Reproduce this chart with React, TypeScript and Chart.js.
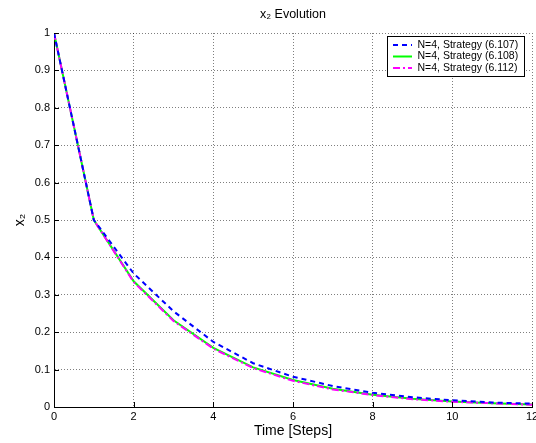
import React, { useEffect, useRef } from "react";
import { Chart, registerables } from "chart.js";

Chart.register(...registerables);

const steps = [0, 1, 2, 3, 4, 5, 6, 7, 8, 9, 10, 11, 12];
const strategy6107 = [1, 0.5, 0.357, 0.256, 0.174, 0.117, 0.081, 0.056, 0.038, 0.026, 0.018, 0.012, 0.009];
const strategy6108 = [1, 0.5, 0.336, 0.232, 0.158, 0.106, 0.072, 0.049, 0.033, 0.022, 0.015, 0.01, 0.007];
const strategy6112 = [1, 0.5, 0.334, 0.23, 0.156, 0.104, 0.07, 0.047, 0.032, 0.021, 0.014, 0.01, 0.006];
const seriesLabels = ["N=4, Strategy (6.107)", "N=4, Strategy (6.108)", "N=4, Strategy (6.112)"];
const seriesColors = ["#0000ff", "#00ff00", "#ff00ff"];
const seriesDashes = [[5, 4], [], [7, 3, 2, 3]];
const seriesOrder = [0, 2, 1];
const chartTitle = "x\u2082 Evolution";
const xTitle = "Time [Steps]";
const yTitle = "x\u2082";

const FONT = "'Liberation Sans', Arial, Helvetica, sans-serif";

const overlayPlugin = {
  id: "overlay",
  afterDraw(chart: any) {
    const { ctx, chartArea, scales } = chart;
    const xs = scales.x;
    const ys = scales.y;
    ctx.save();
    ctx.strokeStyle = "#000";
    ctx.lineWidth = 1;
    ctx.setLineDash([]);
    xs.ticks.forEach((t: any) => {
      const px = Math.round(xs.getPixelForValue(t.value)) + 0.5;
      ctx.beginPath();
      ctx.moveTo(px, chartArea.bottom);
      ctx.lineTo(px, chartArea.bottom - 5);
      ctx.stroke();
    });
    ys.ticks.forEach((t: any) => {
      const py = Math.round(ys.getPixelForValue(t.value)) + 0.5;
      ctx.beginPath();
      ctx.moveTo(chartArea.left, py);
      ctx.lineTo(chartArea.left + 5, py);
      ctx.stroke();
    });
    ctx.fillStyle = "#000";
    ctx.font = `12.5px ${FONT}`;
    ctx.textAlign = "center";
    ctx.textBaseline = "middle";
    ctx.fillText(chartTitle, (chartArea.left + chartArea.right) / 2, 15);
    const bx = 387.5, by = 36.5, bw = 137, bh = 40;
    ctx.fillStyle = "#fff";
    ctx.fillRect(bx, by, bw, bh);
    ctx.strokeStyle = "#000";
    ctx.lineWidth = 1;
    ctx.strokeRect(bx, by, bw, bh);
    const rows = [45, 56.5, 68];
    seriesLabels.forEach((lab, i) => {
      ctx.strokeStyle = seriesColors[i];
      ctx.lineWidth = 2;
      ctx.setLineDash(seriesDashes[i]);
      ctx.beginPath();
      ctx.moveTo(393, rows[i]);
      ctx.lineTo(412, rows[i]);
      ctx.stroke();
      ctx.setLineDash([]);
      ctx.fillStyle = "#000";
      ctx.font = `10.5px ${FONT}`;
      ctx.textAlign = "left";
      ctx.textBaseline = "middle";
      ctx.fillText(lab, 417.5, rows[i]);
    });
    ctx.restore();
  },
};

export default function App() {
  const ref = useRef<HTMLCanvasElement | null>(null);
  useEffect(() => {
    if (!ref.current) return;
    const datasets = [strategy6107, strategy6108, strategy6112].map((vals, i) => ({
      label: seriesLabels[i],
      data: steps.map((s, j) => ({ x: s, y: vals[j] })),
      borderColor: seriesColors[i],
      backgroundColor: seriesColors[i],
      borderWidth: 2,
      borderDash: seriesDashes[i],
      order: seriesOrder[i],
      pointRadius: 0,
      tension: 0,
      fill: false,
    }));
    const chart = new Chart(ref.current, {
      type: "line",
      data: { datasets },
      options: {
        animation: false,
        responsive: false,
        layout: { padding: { top: 33, right: 4, left: 0, bottom: 0 } },
        plugins: { legend: { display: false }, title: { display: false }, tooltip: { enabled: false } },
        scales: {
          x: {
            type: "linear",
            min: 0,
            max: 12,
            afterFit: (s: any) => { s.height = 36; s.paddingLeft = 0; s.paddingRight = 0; },
            ticks: { stepSize: 2, color: "#000", padding: 3, font: { family: FONT, size: 11 }, maxRotation: 0 },
            grid: { color: "rgba(0,0,0,0.5)", lineWidth: 1, drawTicks: false },
            border: { display: true, color: "#000", width: 1, dash: [1, 2] },
            title: { display: true, text: xTitle, color: "#000", font: { family: FONT, size: 14 }, padding: { top: 0, bottom: 3 } },
          },
          y: {
            type: "linear",
            min: 0,
            max: 1,
            afterFit: (s: any) => { s.width = 54; s.paddingTop = 0; s.paddingBottom = 0; },
            ticks: {
              stepSize: 0.1,
              color: "#000",
              padding: 4,
              font: { family: FONT, size: 11 },
              callback: (v: any) => String(Number(Number(v).toFixed(1))),
            },
            grid: { color: "rgba(0,0,0,0.5)", lineWidth: 1, drawTicks: false },
            border: { display: true, color: "#000", width: 1, dash: [1, 2] },
            title: { display: true, text: yTitle, color: "#000", font: { family: FONT, size: 14 }, padding: { top: 11.5, bottom: 0 } },
          },
        },
      },
      plugins: [overlayPlugin],
    } as any);
    return () => chart.destroy();
  }, []);
  return (
    <div style={{ position: "absolute", left: 0, top: 0, width: 536, height: 443, background: "#fff" }}>
      <canvas ref={ref} width={536} height={443} />
    </div>
  );
}
